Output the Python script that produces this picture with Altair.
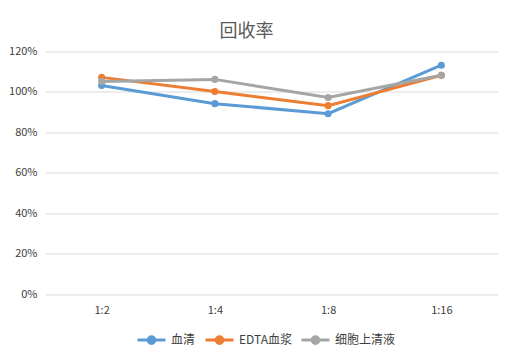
import altair as alt
import pandas as pd

categories = ["1:2", "1:4", "1:8", "1:16"]
series_names = ["血清", "EDTA血浆", "细胞上清液"]
serum = [1.032, 0.942, 0.892, 1.132]
edta = [1.072, 1.002, 0.932, 1.082]
supernatant = [1.052, 1.062, 0.972, 1.082]
colors = ["#5B9BD5", "#ED7D31", "#A5A5A5"]

rows = []
for name, vals in zip(series_names, [serum, edta, supernatant]):
    for c, v in zip(categories, vals):
        rows.append({"dilution": c, "series": name, "value": v})
df = pd.DataFrame(rows)

# legend symbol: line with a filled-looking circle (concentric strokes)
sym = ("M-1,0L1,0 "
       "M-0.24,0A0.24,0.24 0 1,1 0.24,0A0.24,0.24 0 1,1 -0.24,0 "
       "M-0.16,0A0.16,0.16 0 1,1 0.16,0A0.16,0.16 0 1,1 -0.16,0 "
       "M-0.08,0A0.08,0.08 0 1,1 0.08,0A0.08,0.08 0 1,1 -0.08,0")

font = "Noto Sans CJK SC"

x = alt.X("dilution:O", sort=categories, title=None,
          scale=alt.Scale(type="point", padding=0.5),
          axis=alt.Axis(labelAngle=0, domain=False, ticks=False, grid=False,
                        labelPadding=10, labelFontSize=11, labelColor="#404040",
                        labelFont=font))
y = alt.Y("value:Q", title=None,
          scale=alt.Scale(domain=[0, 1.2], nice=False),
          axis=alt.Axis(format=".0%", values=[0, 0.2, 0.4, 0.6, 0.8, 1.0, 1.2],
                        domain=False, ticks=False, gridColor="#d9d9d9",
                        gridWidth=1, labelPadding=8, labelFontSize=11,
                        labelColor="#404040", labelFont=font))
color = alt.Color("series:N", sort=series_names,
                  scale=alt.Scale(domain=series_names, range=colors),
                  legend=alt.Legend(title=None, orient="none", direction="horizontal",
                                    legendX=91, legendY=273,
                                    symbolType=sym, symbolSize=784, symbolStrokeWidth=3,
                                    labelFontSize=12, labelFont=font, labelColor="#404040",
                                    labelOffset=4, columnPadding=3))

lines = alt.Chart(df).mark_line(strokeWidth=3).encode(x=x, y=y, color=color)
points = alt.Chart(df).mark_circle(size=50, opacity=1).encode(
    x=x, y=y,
    color=alt.Color("series:N", scale=alt.Scale(domain=series_names, range=colors), legend=None))

chart = (lines + points).properties(
    width=453, height=242.5,
    title=alt.Title("回收率", font=font, fontSize=18, fontWeight="normal",
                    color="#595959", offset=5, dx=-25),
    autosize=alt.AutoSizeParams(type="none"),
    padding={"left": 37, "top": 43.5, "right": 7, "bottom": 56},
).configure_view(stroke=None)

chart.save("out.html", embed_options={"renderer": "svg", "actions": False})
